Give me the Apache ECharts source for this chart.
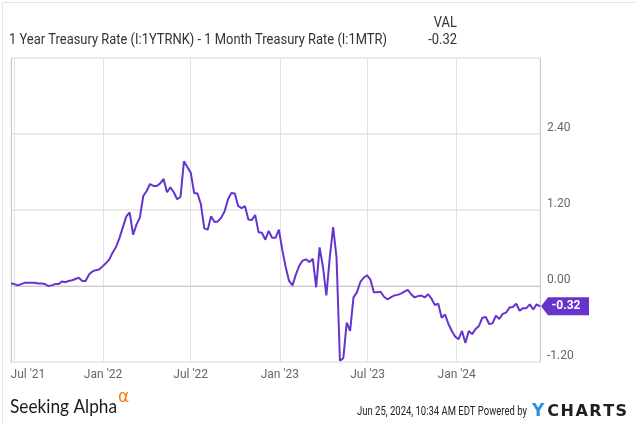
<!DOCTYPE html>
<html>
<head>
<meta charset="utf-8">
<script src="https://cdn.jsdelivr.net/npm/echarts@6/dist/echarts.min.js"></script>
<style>
html,body{margin:0;padding:0;background:#fff;}
#c{width:635px;height:424px;}
</style>
</head>
<body>
<div id="c"></div>
<script>
// ---- data ----
const seriesTitle = '1 Year Treasury Rate (I:1YTRNK) - 1 Month Treasury Rate (I:1MTR)';
const firstWeek = [2021, 5, 25];   // 2021-06-25, weekly observations
const weekStepDays = 7;
const spreadValues = [
  0.04,0.03,0.01,0.03,0.05,0.05,0.05,0.05,0.04,0.04,
  0.03,0.00,0.01,0.03,0.03,0.07,0.06,0.08,0.09,0.11,
  0.13,0.08,0.08,0.18,0.23,0.25,0.26,0.31,0.36,0.42,
  0.53,0.62,0.76,0.93,1.10,1.16,0.81,0.97,1.08,1.42,
  1.50,1.61,1.58,1.58,1.62,1.69,1.48,1.56,1.48,1.37,
  1.41,1.97,1.88,1.79,1.47,1.46,1.29,0.91,0.89,1.10,
  1.01,1.02,1.08,1.18,1.37,1.47,1.46,1.26,1.23,1.26,
  1.05,1.04,1.12,0.85,0.84,0.73,0.87,0.76,0.76,0.89,
  0.57,0.30,0.08,0.01,0.18,0.32,0.40,0.42,0.38,0.43,
  -0.02,0.61,0.30,-0.15,0.45,0.93,0.45,-1.18,-1.14,-0.58,
  -0.71,-0.18,-0.10,0.06,0.13,0.17,0.10,-0.10,-0.10,-0.09,
  -0.17,-0.21,-0.18,-0.15,-0.14,-0.12,-0.09,-0.06,-0.13,-0.18,
  -0.16,-0.15,-0.18,-0.13,-0.20,-0.30,-0.28,-0.50,-0.45,-0.60,
  -0.71,-0.80,-0.84,-0.71,-0.90,-0.71,-0.76,-0.68,-0.63,-0.50,
  -0.49,-0.60,-0.59,-0.47,-0.52,-0.44,-0.42,-0.34,-0.33,-0.28,
  -0.39,-0.35,-0.35,-0.29,-0.37,-0.29,-0.32
];
const xTickDates = [[2021,6,1],[2022,0,1],[2022,6,1],[2023,0,1],[2023,6,1],[2024,0,1]];
const xTickLabels = ["Jul '21","Jan '22","Jul '22","Jan '23","Jul '23","Jan '24"];
const yMin = -1.2, yMax = 3.6, yStep = 1.2;
const currentValue = -0.32;
const footerStamp = 'Jun 25, 2024, 10:34 AM EDT Powered by';

// ---- build ----
const DAY = 86400000;
const t0 = Date.UTC(firstWeek[0], firstWeek[1], firstWeek[2]);
const points = spreadValues.map((v, i) => [t0 + i * weekStepDays * DAY, v]);
const tickTimes = xTickDates.map(d => Date.UTC(d[0], d[1], d[2]));
const lastPoint = points[points.length - 1];

const PURPLE = '#6633cc';
const chart = echarts.init(document.getElementById('c'), null, {renderer: 'canvas'});

const ctx = document.createElement('canvas').getContext('2d');
function fitScale(text, font, targetWidth) {
  ctx.font = font;
  const w = ctx.measureText(text).width;
  return w > 0 ? targetWidth / w : 1;
}
const headFont = '14px Roboto, sans-serif';
const headScale = fitScale(seriesTitle, headFont, 378);
const stampFont = '12px Roboto, sans-serif';
const stampScale = fitScale(footerStamp, stampFont, 170);
const logoFont = '19px Lato, "Open Sans", sans-serif';
const logoScale = fitScale('Seeking Alpha', logoFont, 107);

function tickLabel(val) {
  let best = 0;
  for (let i = 1; i < tickTimes.length; i++) {
    if (Math.abs(tickTimes[i] - val) < Math.abs(tickTimes[best] - val)) best = i;
  }
  return best === 0 ? '{first|' + xTickLabels[0] + '}' : xTickLabels[best];
}

chart.setOption({
  animation: false,
  backgroundColor: '#ffffff',
  grid: {left: 11, right: 95, top: 58, bottom: 62, show: true, borderColor: '#e6e6e6', borderWidth: 1},
  xAxis: {
    type: 'value',
    min: points[0][0],
    max: lastPoint[0],
    axisLine: {show: true, lineStyle: {color: '#cccccc', width: 1}},
    axisTick: {show: false, customValues: tickTimes},
    splitLine: {show: true, lineStyle: {color: '#e3e3e3', width: 1}},
    axisLabel: {
      customValues: tickTimes,
      color: '#666666',
      fontFamily: 'Roboto, sans-serif',
      fontSize: 12,
      margin: 7,
      showMinLabel: true,
      showMaxLabel: true,
      formatter: tickLabel,
      rich: {first: {color: '#666666', fontFamily: 'Roboto, sans-serif', fontSize: 12, padding: [0, 0, 0, 28]}}
    }
  },
  yAxis: [{
    type: 'value',
    position: 'right',
    min: yMin, max: yMax, interval: yStep,
    axisLine: {show: true, lineStyle: {color: '#cccccc'}},
    axisTick: {show: false},
    splitLine: {show: true, lineStyle: {color: '#ebebeb', width: 2}},
    axisLabel: {
      color: '#666666', fontFamily: 'Roboto, sans-serif', fontSize: 12, margin: 7,
      verticalAlign: 'bottom', lineHeight: 12,
      showMaxLabel: false,
      formatter: v => v.toFixed(2)
    }
  }, {
    type: 'value',
    position: 'left',
    min: yMin, max: yMax, interval: yStep,
    axisLine: {show: true, lineStyle: {color: '#cccccc'}},
    axisTick: {show: false},
    axisLabel: {show: false},
    splitLine: {show: false}
  }],
  series: [{
    type: 'line',
    name: seriesTitle,
    data: points,
    showSymbol: false,
    symbol: 'none',
    lineStyle: {color: PURPLE, width: 2},
    itemStyle: {color: PURPLE},
    clip: true,
    markPoint: {
      silent: true,
      symbol: 'path://M0,9 L7,0 L48,0 L48,18 L7,18 Z',
      symbolSize: [48, 18],
      symbolKeepAspect: false,
      symbolOffset: [25, 0],
      itemStyle: {color: PURPLE},
      label: {show: true, position: 'inside', color: '#ffffff', fontWeight: 'bold',
              fontFamily: 'Roboto, sans-serif', fontSize: 12, offset: [1, 0],
              formatter: p => p.value.toFixed(2)},
      data: [{coord: lastPoint, value: currentValue}]
    }
  }],
  graphic: [
    {type: 'rect', left: 0, top: 0, shape: {width: 634, height: 423}, style: {fill: 'none', stroke: '#e3e3e3', lineWidth: 1}, z: 100},
    {type: 'text', x: 9, y: 40.5, scaleX: headScale, style: {text: seriesTitle, fill: '#333333', font: headFont, textVerticalAlign: 'middle'}},
    {type: 'text', x: 457, y: 23, scaleX: headScale, style: {text: 'VAL', fill: '#333333', font: headFont, textAlign: 'right', textVerticalAlign: 'middle'}},
    {type: 'text', x: 457, y: 40.5, scaleX: headScale, style: {text: currentValue.toFixed(2), fill: '#333333', font: headFont, textAlign: 'right', textVerticalAlign: 'middle'}},
    {type: 'text', x: 10, y: 407, scaleX: logoScale, style: {text: 'Seeking Alpha', fill: '#1a1a1a', font: logoFont, textVerticalAlign: 'middle'}},
    {type: 'text', x: 118, y: 398, style: {text: '\u03B1', fill: '#f57c00', font: '17px "DejaVu Sans", sans-serif', textVerticalAlign: 'middle'}},
    {type: 'text', x: 527, y: 412, scaleX: stampScale, style: {text: footerStamp, fill: '#222222', font: stampFont, textAlign: 'right', textVerticalAlign: 'middle'}},
    {type: 'text', x: 532, y: 412, style: {
      text: '{y|Y}{c|C}{c|H}{c|A}{c|R}{c|T}{c|S}',
      textVerticalAlign: 'middle',
      rich: {
        y: {fill: '#2d8fd8', font: 'bold 17px "DejaVu Sans", sans-serif', padding: [0, 3, 0, 0]},
        c: {fill: '#1f1f1f', font: 'bold 16px "DejaVu Sans", sans-serif', padding: [0, 1.5, 0, 0]}
      }
    }}
  ]
});
</script>
</body>
</html>
